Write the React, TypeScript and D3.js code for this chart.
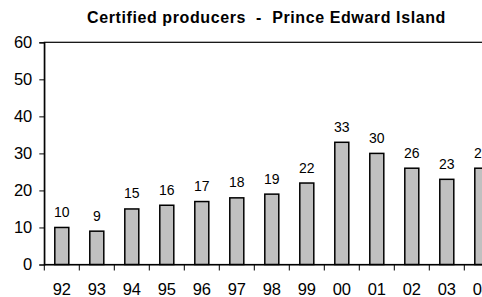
import { useEffect, useRef } from 'react';
import * as d3 from 'd3';

const years = ['92', '93', '94', '95', '96', '97', '98', '99', '00', '01', '02', '03', '04'];
const producers = [10, 9, 15, 16, 17, 18, 19, 22, 33, 30, 26, 23, 26];
const yTicks = [0, 10, 20, 30, 40, 50, 60];

export default function App() {
  const svgRef = useRef<SVGSVGElement>(null);
  const width = 482;
  const height = 297;
  const margin = { top: 42.3, left: 44.3 };
  const bandW = 35;
  const innerWidth = bandW * years.length;
  const innerHeight = 222.2;

  useEffect(() => {
    if (!svgRef.current) return;
    const svg = d3.select(svgRef.current);
    svg.selectAll('*').remove();

    const font = '"Liberation Sans", Arial, sans-serif';

    const x = d3.scaleBand<string>()
      .domain(years)
      .range([0, innerWidth])
      .paddingInner(0.6)
      .paddingOuter(0.3);

    const y = d3.scaleLinear().domain([0, 60]).range([innerHeight, 0]);

    const g = svg.append('g')
      .attr('transform', `translate(${margin.left},${margin.top})`);

    // plot border (top + right, right side falls off-screen)
    g.append('rect')
      .attr('x', 0)
      .attr('y', 0)
      .attr('width', innerWidth)
      .attr('height', innerHeight)
      .attr('fill', 'none')
      .attr('stroke', '#000')
      .attr('stroke-width', 1.2);

    // bars
    g.selectAll('.bar')
      .data(producers)
      .join('rect')
      .attr('class', 'bar')
      .attr('x', (_, i) => x(years[i]) ?? 0)
      .attr('y', d => y(d))
      .attr('width', x.bandwidth())
      .attr('height', d => innerHeight - y(d))
      .attr('fill', '#c0c0c0')
      .attr('stroke', '#000')
      .attr('stroke-width', 1.5);

    // value labels
    g.selectAll('.val')
      .data(producers)
      .join('text')
      .attr('class', 'val')
      .attr('x', (_, i) => (x(years[i]) ?? 0) + x.bandwidth() / 2)
      .attr('y', d => y(d) - 10.5)
      .attr('text-anchor', 'middle')
      .style('font-family', font)
      .style('font-size', '14px')
      .style('fill', '#000')
      .text(d => d);

    // Y axis
    const yAxis = g.append('g')
      .call(d3.axisLeft(y).tickValues(yTicks).tickSize(5).tickPadding(7));
    yAxis.select('.domain').attr('stroke', '#000').attr('stroke-width', 1.2);
    yAxis.selectAll('line').attr('stroke', '#000');
    yAxis.selectAll('text')
      .style('font-family', font)
      .style('font-size', '16.5px')
      .style('fill', '#000');

    // X axis
    const xAxis = g.append('g')
      .attr('transform', `translate(0,${innerHeight})`)
      .call(d3.axisBottom(x).tickSize(0).tickPadding(19));
    xAxis.select('.domain').attr('stroke', '#000').attr('stroke-width', 1.2);
    xAxis.selectAll('text')
      .style('font-family', font)
      .style('font-size', '16.5px')
      .style('fill', '#000');

    // category separator ticks
    g.selectAll('.sep')
      .data(d3.range(years.length + 1))
      .join('line')
      .attr('class', 'sep')
      .attr('x1', i => i * bandW)
      .attr('x2', i => i * bandW)
      .attr('y1', innerHeight)
      .attr('y2', innerHeight + 6)
      .attr('stroke', '#000');

    // Title
    svg.append('text')
      .attr('x', 266.5)
      .attr('y', 23)
      .attr('text-anchor', 'middle')
      .style('font-family', font)
      .style('font-size', '16px')
      .style('font-weight', 'bold')
      .style('letter-spacing', '0.6px')
      .style('fill', '#000')
      .style('white-space', 'pre')
      .text('Certified producers  -  Prince Edward Island');
  }, []);

  return (
    <svg
      ref={svgRef}
      width={width}
      height={height}
      viewBox={`0 0 ${width} ${height}`}
      style={{ position: 'absolute', left: 0, top: 0, background: '#fff' }}
    />
  );
}
